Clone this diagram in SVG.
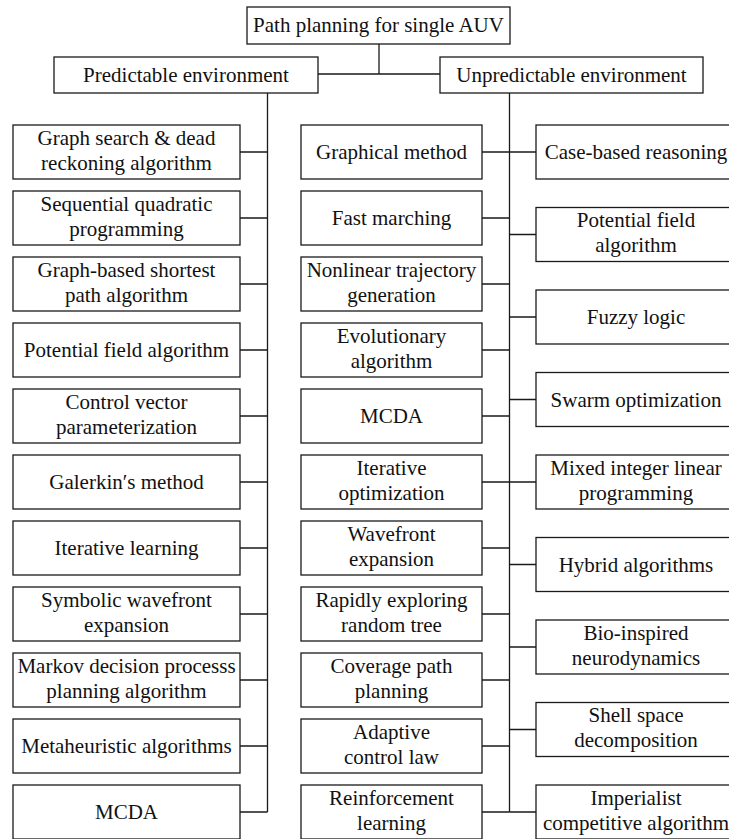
<svg xmlns="http://www.w3.org/2000/svg" width="729" height="839" viewBox="0 0 729 839">
  <style>
    .box { fill: #ffffff; stroke: #1a1a1a; stroke-width: 1.3; }
    .lbl { font-family: "Liberation Serif", "Times New Roman", serif; font-size: 21px; fill: #111111; text-anchor: middle; }
    .wire { fill: none; stroke: #1a1a1a; stroke-width: 1.3; }
  </style>
  <rect width="729" height="839" fill="#ffffff"/>

  <!-- connectors -->
  <g id="connectors" class="wire">
    <path d="M379,44 V74 M318,74 H440"/>
    <!-- predictable branch -->
    <path d="M267.5,93 V812"/>
    <path d="M240,152 H267.5 M240,218 H267.5 M240,284 H267.5 M240,350 H267.5 M240,416 H267.5 M240,482 H267.5 M240,548 H267.5 M240,614 H267.5 M240,680 H267.5 M240,746 H267.5 M240,812 H267.5"/>
    <!-- unpredictable branch -->
    <path d="M509.5,93 V812"/>
    <path d="M482,152 H509.5 M482,218 H509.5 M482,284 H509.5 M482,350 H509.5 M482,416 H509.5 M482,482 H509.5 M482,548 H509.5 M482,614 H509.5 M482,680 H509.5 M482,746 H509.5 M482,812 H509.5"/>
    <path d="M509.5,152 H536 M509.5,234.5 H536 M509.5,317 H536 M509.5,399.5 H536 M509.5,482 H536 M509.5,564.5 H536 M509.5,647 H536 M509.5,729.5 H536 M509.5,812 H536"/>
  </g>

  <!-- root and branches -->
  <g id="root"><rect class="box" x="247" y="7" width="263" height="37"/><text class="lbl" x="378.5" y="31.5">Path planning for single AUV</text></g>
  <g id="predictable"><rect class="box" x="54" y="57" width="264" height="36"/><text class="lbl" x="186" y="82">Predictable environment</text></g>
  <g id="unpredictable"><rect class="box" x="440" y="57" width="263" height="36"/><text class="lbl" x="571.5" y="82">Unpredictable environment</text></g>

  <!-- predictable environment methods -->
  <g id="p1"><rect class="box" x="13" y="125" width="227" height="54"/><text class="lbl" x="126.5" y="145">Graph search &amp; dead</text><text class="lbl" x="126.5" y="170">reckoning algorithm</text></g>
  <g id="p2"><rect class="box" x="13" y="191" width="227" height="54"/><text class="lbl" x="126.5" y="211">Sequential quadratic</text><text class="lbl" x="126.5" y="236">programming</text></g>
  <g id="p3"><rect class="box" x="13" y="257" width="227" height="54"/><text class="lbl" x="126.5" y="277">Graph-based shortest</text><text class="lbl" x="126.5" y="302">path algorithm</text></g>
  <g id="p4"><rect class="box" x="13" y="323" width="227" height="54"/><text class="lbl" x="126.5" y="357">Potential field algorithm</text></g>
  <g id="p5"><rect class="box" x="13" y="389" width="227" height="54"/><text class="lbl" x="126.5" y="409">Control vector</text><text class="lbl" x="126.5" y="434">parameterization</text></g>
  <g id="p6"><rect class="box" x="13" y="455" width="227" height="54"/><text class="lbl" x="126.5" y="489">Galerkin′s method</text></g>
  <g id="p7"><rect class="box" x="13" y="521" width="227" height="54"/><text class="lbl" x="126.5" y="555">Iterative learning</text></g>
  <g id="p8"><rect class="box" x="13" y="587" width="227" height="54"/><text class="lbl" x="126.5" y="607">Symbolic wavefront</text><text class="lbl" x="126.5" y="632">expansion</text></g>
  <g id="p9"><rect class="box" x="13" y="653" width="227" height="54"/><text class="lbl" x="126.5" y="673">Markov decision processs</text><text class="lbl" x="126.5" y="698">planning algorithm</text></g>
  <g id="p10"><rect class="box" x="13" y="719" width="227" height="54"/><text class="lbl" x="126.5" y="753">Metaheuristic algorithms</text></g>
  <g id="p11"><rect class="box" x="13" y="785" width="227" height="54"/><text class="lbl" x="126.5" y="819">MCDA</text></g>

  <!-- unpredictable environment methods, inner column -->
  <g id="u1"><rect class="box" x="301" y="125" width="181" height="54"/><text class="lbl" x="391.5" y="159">Graphical method</text></g>
  <g id="u2"><rect class="box" x="301" y="191" width="181" height="54"/><text class="lbl" x="391.5" y="225">Fast marching</text></g>
  <g id="u3"><rect class="box" x="301" y="257" width="181" height="54"/><text class="lbl" x="391.5" y="277">Nonlinear trajectory</text><text class="lbl" x="391.5" y="302">generation</text></g>
  <g id="u4"><rect class="box" x="301" y="323" width="181" height="54"/><text class="lbl" x="391.5" y="343">Evolutionary</text><text class="lbl" x="391.5" y="368">algorithm</text></g>
  <g id="u5"><rect class="box" x="301" y="389" width="181" height="54"/><text class="lbl" x="391.5" y="423">MCDA</text></g>
  <g id="u6"><rect class="box" x="301" y="455" width="181" height="54"/><text class="lbl" x="391.5" y="475">Iterative</text><text class="lbl" x="391.5" y="500">optimization</text></g>
  <g id="u7"><rect class="box" x="301" y="521" width="181" height="54"/><text class="lbl" x="391.5" y="541">Wavefront</text><text class="lbl" x="391.5" y="566">expansion</text></g>
  <g id="u8"><rect class="box" x="301" y="587" width="181" height="54"/><text class="lbl" x="391.5" y="607">Rapidly exploring</text><text class="lbl" x="391.5" y="632">random tree</text></g>
  <g id="u9"><rect class="box" x="301" y="653" width="181" height="54"/><text class="lbl" x="391.5" y="673">Coverage path</text><text class="lbl" x="391.5" y="698">planning</text></g>
  <g id="u10"><rect class="box" x="301" y="719" width="181" height="54"/><text class="lbl" x="391.5" y="739">Adaptive</text><text class="lbl" x="391.5" y="764">control law</text></g>
  <g id="u11"><rect class="box" x="301" y="785" width="181" height="54"/><text class="lbl" x="391.5" y="805">Reinforcement</text><text class="lbl" x="391.5" y="830">learning</text></g>

  <!-- unpredictable environment methods, outer column -->
  <g id="r1"><rect class="box" x="536" y="125" width="200" height="54"/><text class="lbl" x="636" y="159">Case-based reasoning</text></g>
  <g id="r2"><rect class="box" x="536" y="207.5" width="200" height="54"/><text class="lbl" x="636" y="227">Potential field</text><text class="lbl" x="636" y="252">algorithm</text></g>
  <g id="r3"><rect class="box" x="536" y="290" width="200" height="54"/><text class="lbl" x="636" y="324">Fuzzy logic</text></g>
  <g id="r4"><rect class="box" x="536" y="372.5" width="200" height="54"/><text class="lbl" x="636" y="406.5">Swarm optimization</text></g>
  <g id="r5"><rect class="box" x="536" y="455" width="200" height="54"/><text class="lbl" x="636" y="475">Mixed integer linear</text><text class="lbl" x="636" y="500">programming</text></g>
  <g id="r6"><rect class="box" x="536" y="537.5" width="200" height="54"/><text class="lbl" x="636" y="571.5">Hybrid algorithms</text></g>
  <g id="r7"><rect class="box" x="536" y="620" width="200" height="54"/><text class="lbl" x="636" y="640">Bio-inspired</text><text class="lbl" x="636" y="665">neurodynamics</text></g>
  <g id="r8"><rect class="box" x="536" y="702.5" width="200" height="54"/><text class="lbl" x="636" y="722">Shell space</text><text class="lbl" x="636" y="747">decomposition</text></g>
  <g id="r9"><rect class="box" x="536" y="785" width="200" height="54"/><text class="lbl" x="636" y="805">Imperialist</text><text class="lbl" x="636" y="830">competitive algorithm</text></g>
</svg>
